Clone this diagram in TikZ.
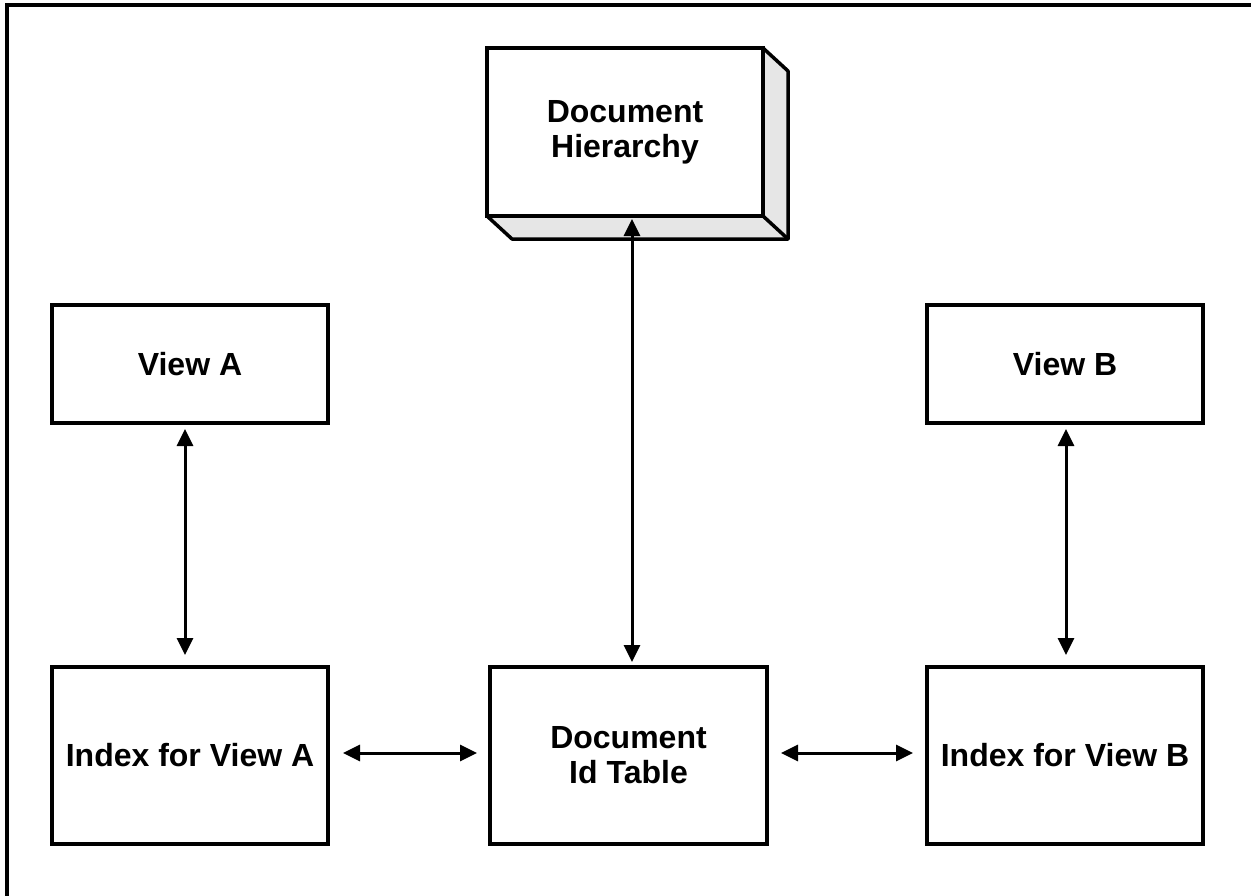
\documentclass[tikz,border=0pt]{standalone}
\usepackage{fontspec}
\setmainfont{Liberation Sans}
\usetikzlibrary{arrows.meta}
\definecolor{depthgray}{HTML}{E6E6E6}
\begin{document}
\begin{tikzpicture}[x=1pt,y=-1pt,
  box/.style={draw, line width=3.5pt, fill=white, inner sep=0pt, outer sep=0pt,
    minimum width=276pt, align=center,
    font=\fontsize{32}{35}\selectfont\bfseries},
  link/.style={line width=3pt, {Triangle[length=17pt,width=16pt]}-{Triangle[length=17pt,width=16pt]}},
  face/.style={draw, line width=3.5pt, fill=depthgray, line join=round}]
\useasboundingbox (0,0) rectangle (1251,895);
% outer frame (only its top and left edges fall inside the page)
\draw[line width=4pt] (7,920) -- (7,5) -- (1270,5);

% raised box holding the hierarchy
\coordinate (dhc) at (625,132);
\draw[face] (763,48) -- ++(25,23) -- ++(0,168) -- ++(-276,0) -- (487,216) -- (763,216) -- cycle;
\draw[line width=3.5pt, line cap=round] (763,216) -- (788,239);
\node[box, minimum height=168pt] (dh) at (dhc) {Document\\Hierarchy};

% views
\node[box, minimum height=118pt] (va) at (190,364) {View A};
\node[box, minimum height=118pt] (vb) at (1065,364) {View B};

% indexes and id table
\node[box, minimum height=177pt] (ia) at (190,755.5) {Index for View A};
\node[box, minimum height=177pt, minimum width=277pt] (dt) at (628.5,755.5) {Document\\Id Table};
\node[box, minimum height=177pt] (ib) at (1065,755.5) {Index for View B};

% connectors
\draw[link, shorten <=6pt, shorten >=12pt] ([xshift=-5pt]va.south) -- ([xshift=-5pt]ia.north);
\draw[link, shorten <=6pt, shorten >=12pt] ([xshift=1pt]vb.south) -- ([xshift=1pt]ib.north);
\draw[link, shorten <=3pt, shorten >=5pt] ([xshift=7pt]dh.south) -- ([xshift=3.5pt]dt.north);
\draw[link, shorten <=15pt, shorten >=13pt] ([yshift=2.5pt]ia.east) -- ([yshift=2.5pt]dt.west);
\draw[link, shorten <=14pt, shorten >=14pt] ([yshift=2.5pt]dt.east) -- ([yshift=2.5pt]ib.west);
\end{tikzpicture}
\end{document}
